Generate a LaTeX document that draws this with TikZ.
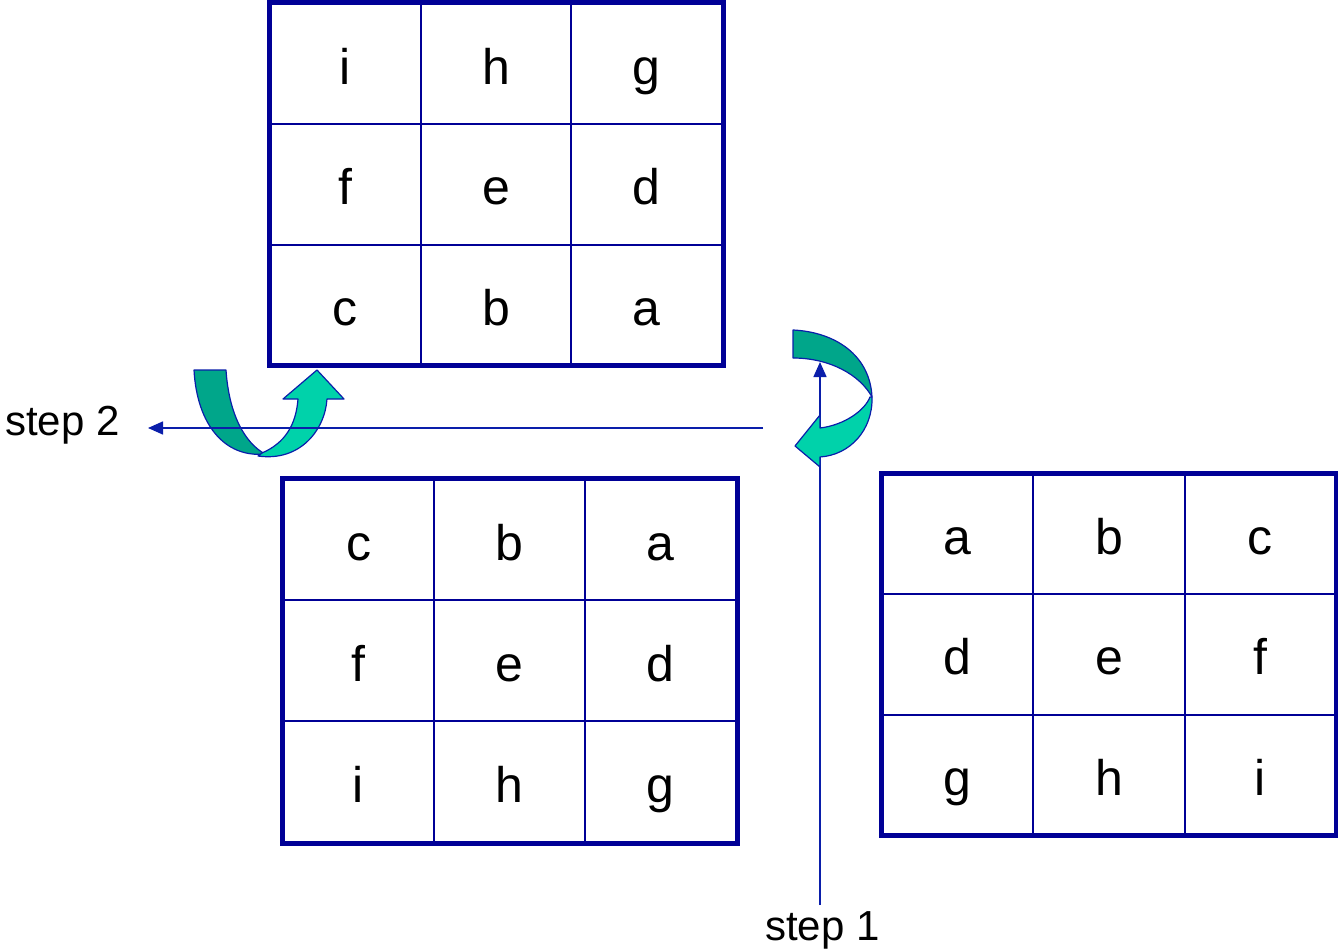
\documentclass[tikz,border=0pt]{standalone}
\usepackage{fontspec}
\setmainfont{Liberation Sans}
\usetikzlibrary{arrows.meta}
\definecolor{gridblue}{RGB}{0,0,150}
\definecolor{linecol}{RGB}{10,30,170}
\definecolor{darkteal}{RGB}{0,166,138}
\definecolor{lightteal}{RGB}{0,210,170}
\tikzset{
  cell/.style={draw=gridblue, line width=2pt, inner sep=0pt, text height=41pt, text depth=0pt,
    font=\fontsize{50}{60}\selectfont},
  outerbox/.style={draw=gridblue, line width=5pt},
  conn/.style={draw=linecol, line width=1.5pt, -{Triangle[length=15pt,width=13pt]}},
  steplabel/.style={inner sep=0pt, font=\fontsize{42}{50}\selectfont},
  darkpart/.style={fill=darkteal, draw=linecol, line width=1.2pt, line join=round},
  lightpart/.style={fill=lightteal, draw=linecol, line width=1.2pt, line join=round}
}
\begin{document}
\begin{tikzpicture}[x=1pt,y=-1pt]
\useasboundingbox (0,0) rectangle (1338,949);
% top grid
\foreach \l [count=\i from 0] in {i,h,g,f,e,d,c,b,a} {
  \pgfmathtruncatemacro{\rr}{div(\i,3)}
  \pgfmathtruncatemacro{\cc}{mod(\i,3)}
  \node[cell, minimum width=150.7pt, minimum height=120.3pt] (T\i) at ({270+150.7*(\cc+0.5)},{4+120.3*(\rr+0.5)}) {\l};
}
\draw[outerbox] (T0.north west) rectangle (T8.south east);
% bottom-left grid
\foreach \l [count=\i from 0] in {c,b,a,f,e,d,i,h,g} {
  \pgfmathtruncatemacro{\rr}{div(\i,3)}
  \pgfmathtruncatemacro{\cc}{mod(\i,3)}
  \node[cell, minimum width=151pt, minimum height=121pt] (B\i) at ({283+151*(\cc+0.5)},{479+121*(\rr+0.5)}) {\l};
}
\draw[outerbox] (B0.north west) rectangle (B8.south east);
% right grid
\foreach \l [count=\i from 0] in {a,b,c,d,e,f,g,h,i} {
  \pgfmathtruncatemacro{\rr}{div(\i,3)}
  \pgfmathtruncatemacro{\cc}{mod(\i,3)}
  \node[cell, minimum width=151.3pt, minimum height=120.3pt] (R\i) at ({882+151.3*(\cc+0.5)},{474+120.3*(\rr+0.5)}) {\l};
}
\draw[outerbox] (R0.north west) rectangle (R8.south east);
% labels
\node[steplabel, anchor=base west] (s2) at (5,435) {step 2};
\node[steplabel, anchor=base west] (s1) at (765,940) {step 1};
% left curved arrow
\filldraw[darkpart] (194,370) -- (226,370) .. controls (229,415) and (245,443) .. (265,454)
   .. controls (225,458) and (197,425) .. (194,370) -- cycle;
\filldraw[lightpart] (258,456) .. controls (300,462) and (325,430) .. (327,399) -- (344,399) -- (317,370)
   -- (283,399) -- (298,399) .. controls (296,425) and (285,443) .. (262,453) -- cycle;
% step 2 connector
\coordinate (h1) at (763,428);
\coordinate (h2) at (148,428);
\draw[conn] (h1) -- (h2);
% step 1 connector
\coordinate (v1) at (820,905);
\coordinate (v2) at (820,362);
\draw[conn] (v1) -- (v2);
% right curved arrow
\filldraw[darkpart] (793,330) .. controls (835,332) and (870,355) .. (872,397)
   .. controls (860,375) and (830,358) .. (793,358) -- cycle;
\filldraw[lightpart] (872,397) .. controls (873,430) and (850,455) .. (820,457) -- (820,467) -- (795,446)
   -- (820,415) -- (820,428) .. controls (845,425) and (865,410) .. (870,397) -- cycle;
\end{tikzpicture}
\end{document}
